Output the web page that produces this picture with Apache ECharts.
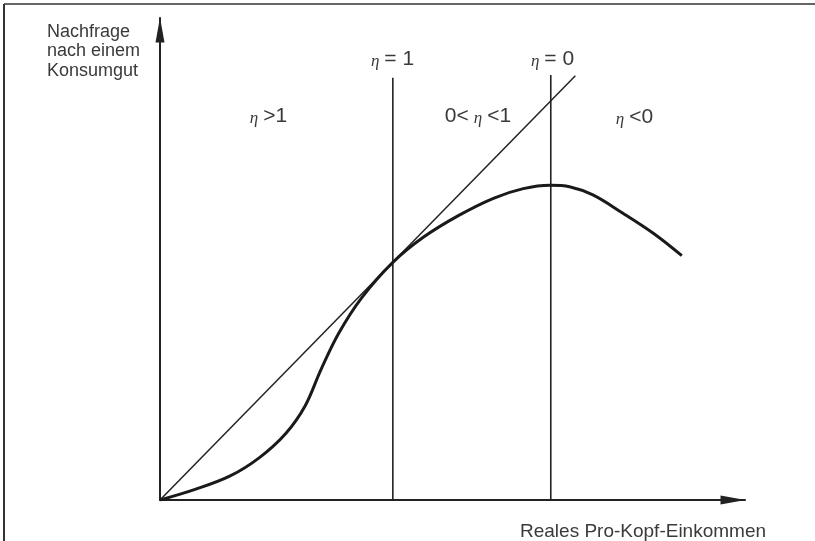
<!DOCTYPE html>
<html>
<head>
<meta charset="utf-8">
<script src="https://cdn.jsdelivr.net/npm/echarts@6/dist/echarts.min.js"></script>
<style>
  * { margin: 0; padding: 0; }
  html, body { background: #fff; }
  #chart-container { width: 815px; height: 541px; }
</style>
</head>
<body>
<div id="chart-container"></div>
<script>
  // Nachfragekurve (Einkommen, Nachfrage), Skala 0..100
  var demandCurve = [
    [0, 0], [6, 2.2], [12, 5.0], [17, 8.8], [21.5, 13.8], [24.8, 19.5],
    [27.5, 27.0], [30.5, 34.5], [34.5, 42.0], [39.8, 49.3], [45, 54.5],
    [51, 59.0], [57, 62.6], [62.1, 64.6], [66.7, 65.3], [70, 65.0],
    [74, 63.3], [79, 59.6], [84.5, 55.2], [89.2, 50.7]
  ]
  // Fahrstrahl vom Ursprung (Tangente bei eta = 1)
  var rayLine = [[0, 0], [71, 88]]
  // senkrechte Linien eta = 1 und eta = 0
  var etaOneLine = [[39.8, 0], [39.8, 87.6]]
  var etaZeroLine = [[66.8, 0], [66.8, 88.2]]

  var yAxisTitle = ['Nachfrage', 'nach einem', 'Konsumgut']
  var xAxisTitle = 'Reales Pro-Kopf-Einkommen'

  var ink = '#222'
  var textColor = '#3a3a3a'

  var chartDom = document.getElementById('chart-container')
  var myChart = echarts.init(chartDom, null, { renderer: 'canvas' })

  function etaText(before, after) {
    return (before ? '{n|' + before + '}' : '') + '{e|η}{n|' + after + '}'
  }
  var rich = {
    e: { fontFamily: 'Liberation Serif', fontStyle: 'italic', fontSize: 17, fill: textColor, padding: [6, 5, 0, 5] },
    n: { fontFamily: 'Liberation Sans', fontSize: 21, fill: textColor }
  }
  function label(x, y, text) {
    return {
      type: 'text', x: x, y: y, silent: true,
      style: { text: text, rich: rich, align: 'center', verticalAlign: 'middle', fill: textColor }
    }
  }

  var axisBase = {
    type: 'value', min: 0, max: 100,
    axisLine: {
      show: true, symbol: ['none', 'triangle'], symbolSize: [9, 25], symbolOffset: [0, -12],
      lineStyle: { color: ink, width: 2 }
    },
    axisTick: { show: false }, axisLabel: { show: false }, splitLine: { show: false }
  }

  var option = {
    animation: false,
    backgroundColor: '#fff',
    grid: { left: 160, right: 70, top: 18, bottom: 41 },
    xAxis: axisBase,
    yAxis: axisBase,
    graphic: [
      { type: 'line', shape: { x1: 4, y1: 4, x2: 815, y2: 4 }, style: { stroke: '#666', lineWidth: 2 } },
      { type: 'line', shape: { x1: 4, y1: 4, x2: 4, y2: 541 }, style: { stroke: '#333', lineWidth: 2 } },
      {
        type: 'text', left: 47, top: 22, silent: true,
        style: { text: yAxisTitle.join('\n'), fontFamily: 'Liberation Sans', fontSize: 18, lineHeight: 19.5, fill: textColor }
      },
      {
        type: 'text', left: 520, top: 522, silent: true,
        style: { text: xAxisTitle, fontFamily: 'Liberation Sans', fontSize: 19, fill: textColor }
      },
      label(266, 116, etaText('', '>1')),
      label(390, 59, etaText('', '= 1')),
      label(550, 59, etaText('', '= 0')),
      label(478, 116, etaText('0<', '<1')),
      label(632, 117, etaText('', '<0'))
    ],
    series: [
      {
        name: 'eta1', type: 'line', data: etaOneLine, symbol: 'none',
        lineStyle: { color: ink, width: 1.6 }
      },
      {
        name: 'eta0', type: 'line', data: etaZeroLine, symbol: 'none',
        lineStyle: { color: ink, width: 1.6 }
      },
      {
        name: 'Fahrstrahl', type: 'line', data: rayLine, symbol: 'none',
        lineStyle: { color: ink, width: 1.5 }
      },
      {
        name: 'Nachfrage', type: 'line', data: demandCurve, symbol: 'none',
        smooth: 0.35,
        lineStyle: { color: '#1a1a1a', width: 3 }
      }
    ]
  }
  myChart.setOption(option)
</script>
</body>
</html>
